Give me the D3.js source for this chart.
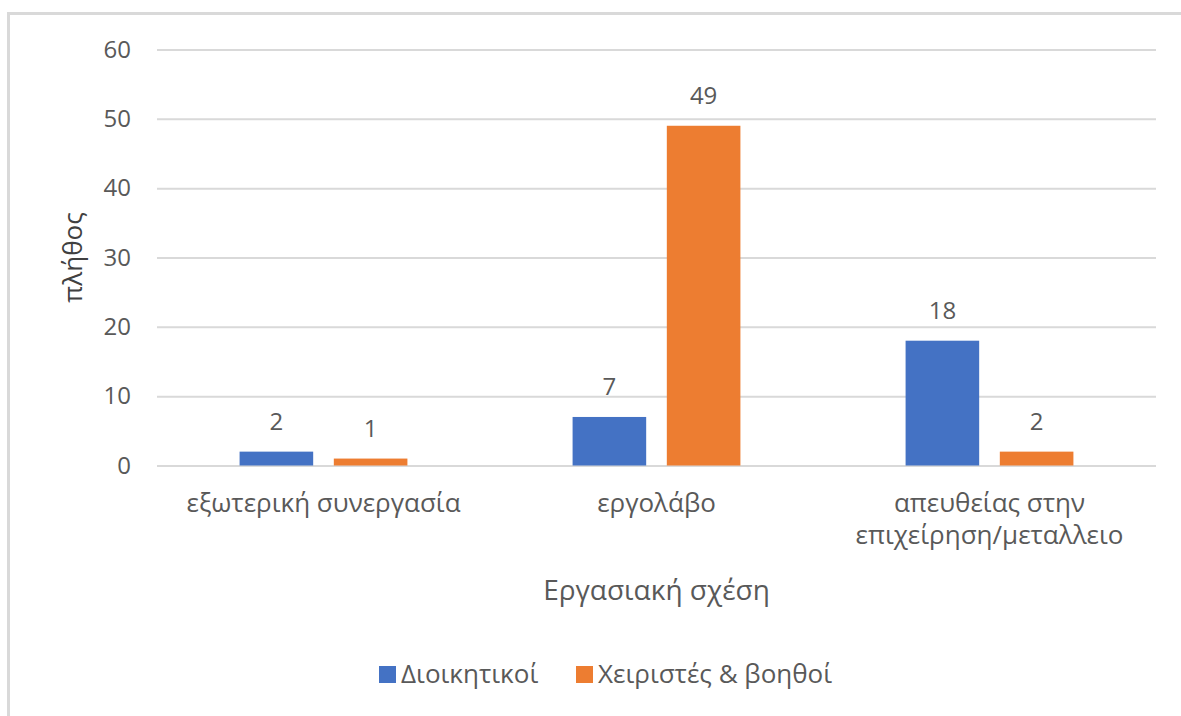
<!DOCTYPE html>
<html lang="el">
<head>
<meta charset="utf-8">
<script src="https://cdn.jsdelivr.net/npm/d3@7"></script>
<style>
  html, body { margin: 0; padding: 0; background: #fff; }
  svg { display: block; font-family: "Open Sans", "Noto Sans", sans-serif; }
</style>
</head>
<body>
<svg id="chart" width="1181" height="716"></svg>
<script>
// Categories, series and values
const categories = ["εξωτερική συνεργασία", "εργολάβο", "απευθείας στην\nεπιχείρηση/μεταλλειο"];
const seriesNames = ["Διοικητικοί", "Χειριστές & βοηθοί"];
const seriesColors = ["#4472C4", "#ED7D31"];
const adminValues = [2, 7, 18];
const operatorValues = [1, 49, 2];
const yTicks = [0, 10, 20, 30, 40, 50, 60];
const yTitle = "πλήθος";
const xTitle = "Εργασιακή σχέση";

const rows = categories.map((c, i) => ({ category: c, values: [adminValues[i], operatorValues[i]] }));

const svg = d3.select("#chart");
const textColor = "#595959";
const gridColor = "#d9d9d9";

// Chart frame (extends past the page's right and bottom edges)
svg.append("rect")
  .attr("x", 8.5).attr("y", 13.5)
  .attr("width", 1300).attr("height", 800)
  .attr("fill", "none").attr("stroke", gridColor).attr("stroke-width", 3);

const plot = { left: 157, right: 1156, top: 49.5, bottom: 465.5 };

const x0 = d3.scaleBand().domain(categories).range([plot.left, plot.right]).padding(0);
const groupWidth = x0.bandwidth() * 0.504;
const x1 = d3.scaleBand().domain(d3.range(seriesNames.length))
  .range([-groupWidth / 2, groupWidth / 2]).paddingInner(0.219).paddingOuter(0);
const y = d3.scaleLinear().domain([0, 60]).range([plot.bottom, plot.top]);

// Horizontal gridlines and y tick labels
const yAxis = d3.axisLeft(y).tickValues(yTicks).tickSize(-(plot.right - plot.left)).tickPadding(26);
const gy = svg.append("g").attr("transform", `translate(${plot.left},0)`).call(yAxis);
gy.select(".domain").remove();
gy.selectAll(".tick line").attr("stroke", gridColor).attr("stroke-width", 2);
gy.selectAll(".tick text")
  .attr("fill", textColor).attr("font-size", 24).attr("font-family", "Open Sans, Noto Sans, sans-serif");

// Bars
const groups = svg.append("g").selectAll("g").data(rows).join("g")
  .attr("transform", d => `translate(${x0(d.category) + x0.bandwidth() / 2},0)`);

groups.selectAll("rect").data(d => d.values.map((v, i) => ({ v, i }))).join("rect")
  .attr("x", d => x1(d.i))
  .attr("width", x1.bandwidth())
  .attr("y", d => y(d.v))
  .attr("height", d => y(0) - y(d.v))
  .attr("fill", d => seriesColors[d.i]);

// Value labels
groups.selectAll("text.val").data(d => d.values.map((v, i) => ({ v, i }))).join("text")
  .attr("class", "val")
  .attr("x", d => x1(d.i) + x1.bandwidth() / 2)
  .attr("y", d => y(d.v) - 22)
  .attr("text-anchor", "middle")
  .attr("fill", textColor).attr("font-size", 24)
  .text(d => d.v);

// Category labels (multi-line where the name contains a line break)
const catLabels = svg.append("g").selectAll("text").data(categories).join("text")
  .attr("x", d => x0(d) + x0.bandwidth() / 2)
  .attr("y", 511.5)
  .attr("text-anchor", "middle")
  .attr("fill", textColor).attr("font-size", 26);
catLabels.each(function(d) {
  const lines = d.split("\n");
  d3.select(this).selectAll("tspan").data(lines).join("tspan")
    .attr("x", x0(d) + x0.bandwidth() / 2)
    .attr("dy", (l, i) => i === 0 ? 0 : 32)
    .text(l => l);
});

// Axis titles
svg.append("text")
  .attr("x", (plot.left + plot.right) / 2).attr("y", 600)
  .attr("text-anchor", "middle")
  .attr("fill", textColor).attr("font-size", 28)
  .text(xTitle);

svg.append("text")
  .attr("transform", `translate(82,${(plot.top + plot.bottom) / 2}) rotate(-90)`)
  .attr("text-anchor", "middle")
  .attr("fill", "#404040").attr("font-size", 26)
  .text(yTitle);

// Legend
const legendItems = [{ x: 379, i: 0 }, { x: 576, i: 1 }];
const legend = svg.append("g").selectAll("g").data(legendItems).join("g")
  .attr("transform", d => `translate(${d.x},666)`);
legend.append("rect").attr("width", 17).attr("height", 17).attr("fill", d => seriesColors[d.i]);
legend.append("text").attr("x", 22).attr("y", 17)
  .attr("fill", textColor).attr("font-size", 26)
  .text(d => seriesNames[d.i]);
</script>
</body>
</html>
